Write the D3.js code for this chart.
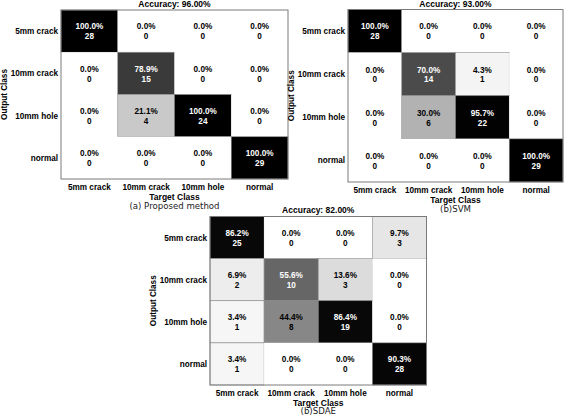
<!DOCTYPE html>
<html><head><meta charset="utf-8">
<script src="https://cdn.jsdelivr.net/npm/d3@7"></script>
<style>body{margin:0;background:#fff}svg{display:block}</style>
</head><body>
<svg id="c" width="565" height="420"></svg>
<script>
// ---- data ----
const classes = ["5mm crack", "10mm crack", "10mm hole", "normal"];
// rows = output class, cols = target class
const countsProposed = [[28,0,0,0],[0,15,0,0],[0,4,24,0],[0,0,0,29]];
const pctProposed    = [[100.0,0,0,0],[0,78.9,0,0],[0,21.1,100.0,0],[0,0,0,100.0]];
const countsSVM      = [[28,0,0,0],[0,14,1,0],[0,6,22,0],[0,0,0,29]];
const pctSVM         = [[100.0,0,0,0],[0,70.0,4.3,0],[0,30.0,95.7,0],[0,0,0,100.0]];
const countsSDAE     = [[25,0,0,3],[2,10,3,0],[1,8,19,0],[1,0,0,28]];
const pctSDAE        = [[86.2,0,0,9.7],[6.9,55.6,13.6,0],[3.4,44.4,86.4,0],[3.4,0,0,90.3]];
const accuracies = ["Accuracy: 96.00%", "Accuracy: 93.00%", "Accuracy: 82.00%"];
const captions = ["(a) Proposed method", "(b)SVM", "(b)SDAE"];

// ---- layout ----
const panels = [
  {counts: countsProposed, pct: pctProposed, acc: accuracies[0], cap: captions[0],
   x0: 61, y0: 10, w: 227, h: 169, titleDy: -3, xlDy: 11, tcDy: 21, capDy: 30},
  {counts: countsSVM, pct: pctSVM, acc: accuracies[1], cap: captions[1],
   x0: 348, y0: 9.5, w: 215, h: 172.5, titleDy: -3, xlDy: 10.5, tcDy: 21, capDy: 30},
  {counts: countsSDAE, pct: pctSDAE, acc: accuracies[2], cap: captions[2],
   x0: 210, y0: 216.5, w: 216.5, h: 168.5, titleDy: -4, xlDy: 11, tcDy: 20.5, capDy: 29}
];

const svg = d3.select("#c");
const boldFont = "Liberation Sans, Arial, sans-serif";
const gray = d3.scaleLinear().domain([0, 30, 55.6, 78.9, 86.2, 100])
  .range([255, 178, 102, 58, 8, 0]).clamp(true);

panels.forEach(p => {
  const g = svg.append("g");
  const x = d3.scaleBand().domain(d3.range(classes.length)).range([p.x0, p.x0 + p.w]);
  const y = d3.scaleBand().domain(d3.range(classes.length)).range([p.y0, p.y0 + p.h]);
  const cells = [];
  p.pct.forEach((row, r) => row.forEach((v, c) => cells.push({r, c, v, n: p.counts[r][c]})));

  g.selectAll("rect.cell").data(cells).join("rect")
    .attr("class", "cell")
    .attr("x", d => x(d.c)).attr("y", d => y(d.r))
    .attr("width", x.bandwidth()).attr("height", y.bandwidth())
    .attr("fill", d => { const v = Math.round(gray(d.v)); return d3.rgb(v, v, v); })
    .attr("stroke", d => d.v > 0 ? "#8a8a8a" : "none")
    .attr("stroke-width", 0.6);

  g.append("rect").attr("x", p.x0).attr("y", p.y0).attr("width", p.w).attr("height", p.h)
    .attr("fill", "none").attr("stroke", "#7a7a7a").attr("stroke-width", 1);

  const txt = g.selectAll("g.t").data(cells).join("g").attr("class", "t")
    .attr("transform", d => `translate(${x(d.c) + x.bandwidth() / 2},${y(d.r) + y.bandwidth() / 2})`)
    .attr("fill", d => gray(d.v) < 128 ? "#fff" : "#000")
    .attr("font-family", boldFont).attr("font-weight", "bold").attr("font-size", 8.2)
    .attr("text-anchor", "middle");
  txt.append("text").attr("y", -1.7).text(d => d.v.toFixed(1) + "%");
  txt.append("text").attr("y", 8.3).text(d => d.n);

  // title
  g.append("text").attr("x", p.x0 + p.w / 2).attr("y", p.y0 + p.titleDy)
    .attr("text-anchor", "middle").attr("font-family", boldFont).attr("font-weight", "bold")
    .attr("font-size", 8.5).text(p.acc);

  // row labels
  g.selectAll("text.rl").data(classes).join("text").attr("class", "rl")
    .attr("x", p.x0 - 3).attr("y", (d, i) => y(i) + y.bandwidth() / 2 + 3)
    .attr("text-anchor", "end").attr("font-family", boldFont).attr("font-weight", "bold")
    .attr("font-size", 8.2).text(d => d);

  // column labels
  g.selectAll("text.cl").data(classes).join("text").attr("class", "cl")
    .attr("x", (d, i) => x(i) + x.bandwidth() / 2).attr("y", p.y0 + p.h + p.xlDy)
    .attr("text-anchor", "middle").attr("font-family", boldFont).attr("font-weight", "bold")
    .attr("font-size", 8.2).text(d => d);

  g.append("text").attr("x", p.x0 + p.w / 2).attr("y", p.y0 + p.h + p.tcDy)
    .attr("text-anchor", "middle").attr("font-family", boldFont).attr("font-weight", "bold")
    .attr("font-size", 8.5).text("Target Class");

  g.append("text")
    .attr("transform", `translate(${p.x0 - 54.5},${p.y0 + p.h / 2}) rotate(-90)`)
    .attr("text-anchor", "middle").attr("font-family", boldFont).attr("font-weight", "bold")
    .attr("font-size", 8.2).text("Output Class");

  g.append("text").attr("x", p.x0 + p.w / 2).attr("y", p.y0 + p.h + p.capDy)
    .attr("text-anchor", "middle").attr("font-family", "DejaVu Sans, sans-serif")
    .attr("font-size", 8.6).attr("fill", "#222").text(p.cap);
});
</script>
</body></html>
